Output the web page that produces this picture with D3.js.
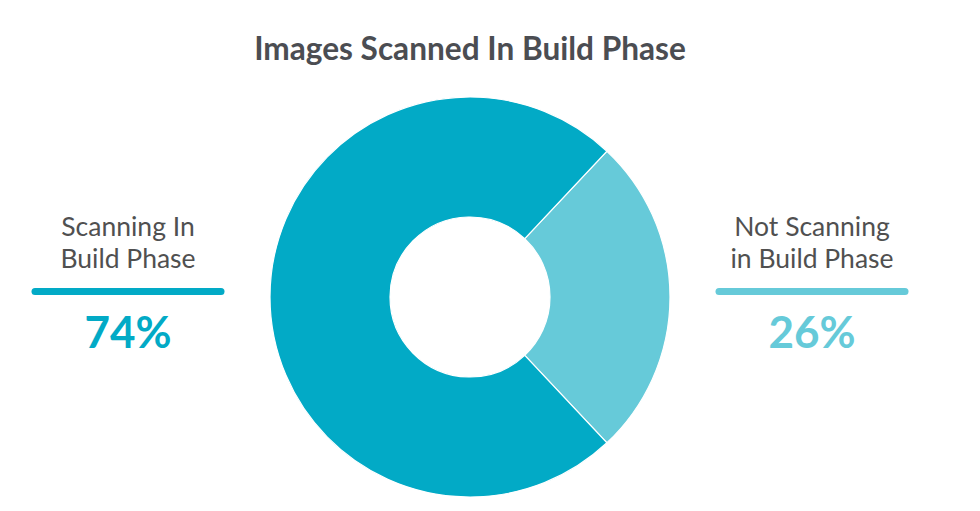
<!DOCTYPE html>
<html>
<head>
<meta charset="utf-8">
<script src="https://cdn.jsdelivr.net/npm/d3@7"></script>
<style>
  body { margin: 0; background: #fff; }
  svg { display: block; font-family: Lato, 'Open Sans', sans-serif; }
</style>
</head>
<body>
<div id="chart"></div>
<script>
const WIDTH = 980
const HEIGHT = 511
const TITLE = 'Images Scanned In Build Phase'

// data
const categories = ['Scanning In Build Phase', 'Not Scanning in Build Phase']
const labelLines = [['Scanning In', 'Build Phase'], ['Not Scanning', 'in Build Phase']]
const values = [74, 26]
const colors = ['#02aac6', '#66cad9']

const cx = 470
const cy = 297
const OUTER = 200
const INNER = 80
const LABEL_OFFSET = 342

var svg = d3.select('#chart').append('svg')
  .attr('width', WIDTH)
  .attr('height', HEIGHT)

// Title
svg.append('text')
  .attr('x', cx)
  .attr('y', 60)
  .attr('text-anchor', 'middle')
  .attr('font-size', 31.6)
  .attr('font-weight', 'bold')
  .attr('fill', '#4b4d52')
  .text(TITLE)

// Donut - small slice centered on the right side
var share = values[1] / d3.sum(values)
var start = Math.PI / 2 - share * Math.PI
var pie = d3.pie()
  .sort(null)
  .value(d => d.value)
  .startAngle(start)
  .endAngle(start + 2 * Math.PI)
var arc = d3.arc().innerRadius(INNER).outerRadius(OUTER)

var pieData = pie([
  { name: categories[1], value: values[1], color: colors[1] },
  { name: categories[0], value: values[0], color: colors[0] }
])

svg.append('g')
  .attr('transform', 'translate(' + cx + ',' + cy + ')')
  .selectAll('path')
  .data(pieData)
  .enter()
  .append('path')
  .attr('d', arc)
  .attr('fill', d => d.data.color)
  .attr('stroke', '#fff')
  .attr('stroke-width', 1.2)

// Side labels
var xPos = d3.scalePoint()
  .domain(categories)
  .range([cx - LABEL_OFFSET, cx + LABEL_OFFSET])

categories.forEach(function (cat, i) {
  var g = svg.append('g')
    .attr('transform', 'translate(' + xPos(cat) + ',0)')
  g.selectAll('text.name')
    .data(labelLines[i])
    .enter()
    .append('text')
    .attr('class', 'name')
    .attr('x', 0)
    .attr('y', (d, j) => 236 + j * 32)
    .attr('text-anchor', 'middle')
    .attr('font-size', 26.5)
    .attr('fill', '#505050')
    .text(d => d)
  g.append('line')
    .attr('x1', -93)
    .attr('x2', 93)
    .attr('y1', 291.5)
    .attr('y2', 291.5)
    .attr('stroke', colors[i])
    .attr('stroke-width', 7)
    .attr('stroke-linecap', 'round')
  g.append('text')
    .attr('x', 0)
    .attr('y', 348)
    .attr('text-anchor', 'middle')
    .attr('font-size', 44)
    .attr('font-weight', 'bold')
    .attr('fill', colors[i])
    .text(values[i] + '%')
})
</script>
</body>
</html>
